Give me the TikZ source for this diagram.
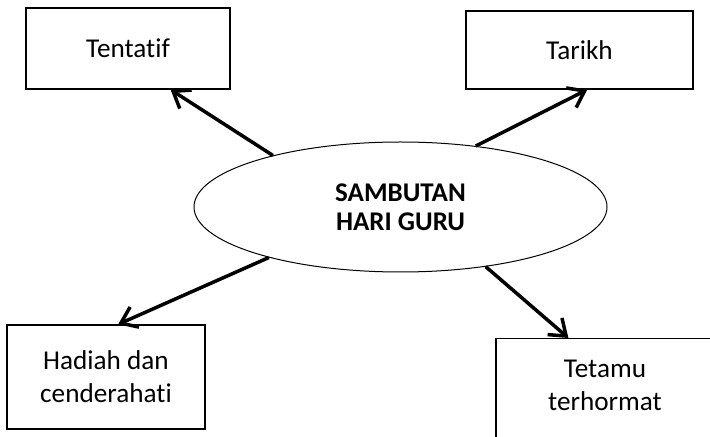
\documentclass[tikz,border=0pt]{standalone}
\usepackage{fontspec}
\setmainfont{Carlito}[Ligatures=NoCommon]
\usetikzlibrary{shapes.geometric,arrows.meta}

\begin{document}
\begin{tikzpicture}[x=0.5pt,y=-0.5pt,font=\fontsize{13.6pt}{16.5pt}\selectfont]
    \tikzstyle{kotak}=[rectangle,draw=black,line width=0.65pt,inner sep=0pt,align=center]
    \tikzstyle{panah}=[line width=1.75pt,-{Straight Barb[length=7.5pt,width=11pt]}]
    \path[use as bounding box,clip] (0,0) rectangle (710,437);

    \node[ellipse,draw=black,line width=0.5pt,minimum width=206.5pt,minimum height=65pt,
          inner sep=0pt,align=center,font=\fontsize{13.5pt}{14.5pt}\selectfont\bfseries]
          (pusat) at (400.5,207) {SAMBUTAN\\HARI GURU};

    \node[kotak,minimum width=102pt,minimum height=40.5pt] (tentatif) at (128,48.5) {Tentatif};
    \node[kotak,minimum width=113.5pt,minimum height=39pt] (tarikh) at (579.5,50) {Tarikh};
    \node[kotak,minimum width=99pt,minimum height=52pt] (hadiah) at (106,377) {Hadiah dan\\cenderahati};
    % kotak ini terpotong di tepi gambar
    \node[kotak,minimum width=109pt,inner ysep=10.5pt,text depth=22pt,anchor=north]
          (tetamu) at (605,338) {Tetamu\\terhormat};

    \foreach \a/\tgt/\b in {158/tentatif/-44, 39/tarikh/-79, 201/hadiah/77, 325/tetamu/118}
        \draw[panah] (pusat.\a) -- (\tgt.\b);
\end{tikzpicture}
\end{document}
